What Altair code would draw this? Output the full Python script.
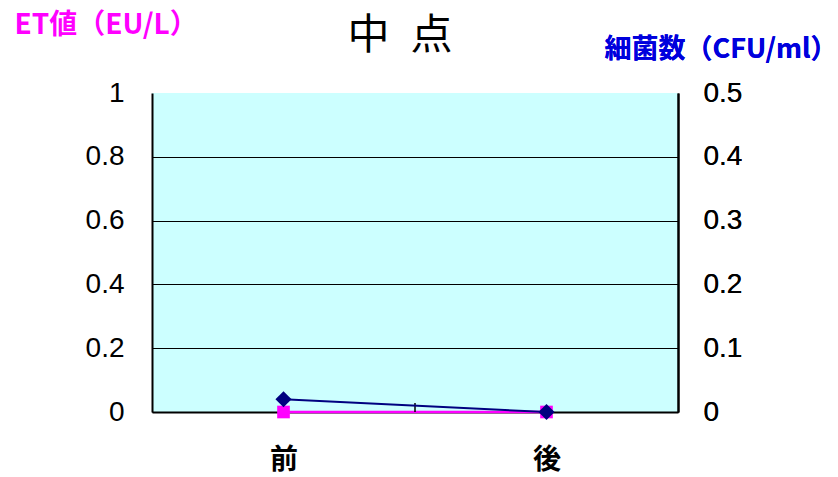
import altair as alt
import pandas as pd

categories = ["前", "後"]
cat_pos = [0.5, 1.5]
et_values = [0.0, 0.0]
bac_values = [0.02, 0.0]

df = pd.DataFrame({"cat": categories, "pos": cat_pos, "et": et_values, "bac": bac_values})

W, H = 526, 319
LATIN = "Liberation Sans, Noto Sans CJK JP"
CJK = "Noto Sans CJK JP"

xenc = alt.X("pos:Q", scale=alt.Scale(domain=[0, 2]),
             axis=alt.Axis(values=cat_pos, ticks=False, grid=False, domainColor="black",
                           domainWidth=2,
                           labelExpr="datum.value < 1 ? '前' : '後'",
                           labelFont=CJK, labelFontWeight="bold", labelFontSize=28,
                           labelColor="black", labelPadding=34, title=None))

et = alt.Chart(df).encode(
    x=xenc,
    y=alt.Y("et:Q", scale=alt.Scale(domain=[0, 1]),
            axis=alt.Axis(values=[0, 0.2, 0.4, 0.6, 0.8, 1], ticks=False, format="~g",
                          grid=True, gridColor="black", gridWidth=1,
                          gridOpacity={"condition": {"test": "datum.value === 1", "value": 0}, "value": 1},
                          domainColor="black", domainWidth=2,
                          labelFont=LATIN, labelFontSize=28, labelColor="black", labelPadding=28,
                          title="ET値（EU/L）", titleAngle=0, titleFont=CJK, titleFontSize=28,
                          titleFontWeight="bold", titleColor="#FF00FF", titleAlign="left",
                          titleBaseline="alphabetic", titleX=-138, titleY=-60, titleLimit=400)),
)
et_line = et.mark_line(color="#FF00FF", strokeWidth=2.5)
et_pts = et.mark_point(shape="square", filled=True, size=160, color="#FF00FF", opacity=1)

bac = alt.Chart(df).encode(
    x=alt.X("pos:Q"),
    y=alt.Y("bac:Q", scale=alt.Scale(domain=[0, 0.5]),
            axis=alt.Axis(orient="right", values=[0, 0.1, 0.2, 0.3, 0.4, 0.5], ticks=False,
                          format="~g",
                          grid=False, domainColor="black", domainWidth=2,
                          labelFont=LATIN, labelFontSize=28, labelColor="black", labelPadding=25,
                          title="細菌数（CFU/ml）", titleAngle=0, titleFont=CJK, titleFontSize=27,
                          titleFontWeight="bold", titleColor="#0000DD", titleAlign="right",
                          titleBaseline="alphabetic", titleX=159, titleY=-36, titleLimit=400)),
)
bac_line = bac.mark_line(color="#000080", strokeWidth=2)
bac_pts = bac.mark_point(shape="diamond", filled=True, size=260, color="#000080", opacity=1)

mid_tick = alt.Chart(pd.DataFrame({"b": [1.0]})).mark_rule(color="black", strokeWidth=1.5).encode(
    x=alt.X("b:Q"), y=alt.value(H - 9), y2=alt.value(H))

left = alt.layer(et_line, et_pts, mid_tick)
chart = alt.layer(left, bac_line, bac_pts).resolve_scale(y="independent").properties(
    width=W, height=H,
    title=alt.TitleParams("中\u2002点", font=CJK, fontSize=42, fontWeight="normal", color="black",
                          anchor="middle", dx=-15, offset=0, dy=47),
    autosize=alt.AutoSizeParams(type="none"),
    padding={"left": 152, "top": 93, "right": 838 - 152 - W, "bottom": 477 - 93 - H},
).configure_view(fill="#CCFFFF", stroke=None)

chart.save("out.html", embed_options={"renderer": "svg", "actions": False})
